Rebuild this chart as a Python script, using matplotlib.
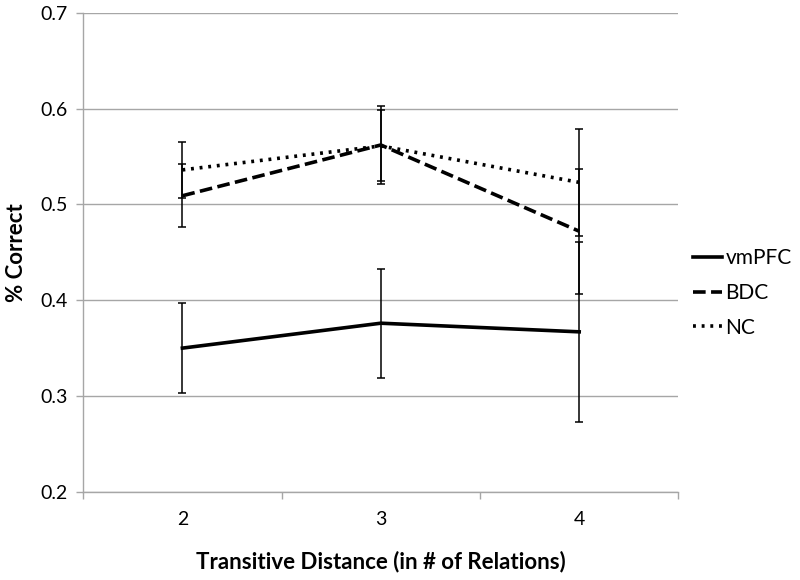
import matplotlib
matplotlib.use("Agg")
import matplotlib.pyplot as plt
from matplotlib.lines import Line2D
from matplotlib.ticker import FixedLocator

plt.rcParams['font.family'] = ['Lato', 'DejaVu Sans']

# --- data ---
distances = ["2", "3", "4"]
vmpfc     = [0.350, 0.376, 0.367]
vmpfc_err = [0.047, 0.057, 0.094]
bdc       = [0.509, 0.562, 0.472]
bdc_err   = [0.033, 0.041, 0.065]
nc        = [0.536, 0.561, 0.523]
nc_err    = [0.029, 0.037, 0.056]

x = list(range(len(distances)))

fig = plt.figure(figsize=(8, 5.8), dpi=100)
ax = fig.add_axes([0.104, 0.152, 0.744, 0.826])

series = [
    ("vmPFC", vmpfc, vmpfc_err, "-"),
    ("BDC",   bdc,   bdc_err,   (0, (3.5, 1.5))),
    ("NC",    nc,    nc_err,    (0, (0.8, 1.6))),
]
handles = []
for name, vals, err, ls in series:
    ax.errorbar(x, vals, yerr=err, color="black", lw=2.6, linestyle=ls,
                ecolor="black", elinewidth=1.1, capsize=3, capthick=1.1,
                dash_capstyle="butt")
    handles.append(Line2D([], [], color="black", lw=2.6, linestyle=ls,
                          dash_capstyle="butt", label=name))

# --- axes styling (Excel-like) ---
ax.set_xlim(-0.5, 2.5)
ax.set_ylim(0.2, 0.7)
ax.set_yticks([0.2, 0.3, 0.4, 0.5, 0.6, 0.7])
ax.set_yticklabels(["0.2", "0.3", "0.4", "0.5", "0.6", "0.7"])
ax.yaxis.grid(True, color="#a6a6a6", lw=1)
ax.set_axisbelow(True)

ax.xaxis.set_major_locator(FixedLocator([-0.5, 0.5, 1.5, 2.5]))
ax.set_xticklabels([])
ax.xaxis.set_minor_locator(FixedLocator(x))
ax.set_xticklabels(distances, minor=True)
ax.tick_params(axis="x", which="major", length=5, color="#a6a6a6", width=1)
ax.tick_params(axis="x", which="minor", length=0, pad=14, labelsize=14)
ax.tick_params(axis="y", length=5, color="#a6a6a6", width=1, labelsize=14, pad=6)

for side in ["top", "right"]:
    ax.spines[side].set_visible(False)
for side in ["left", "bottom"]:
    ax.spines[side].set_color("#a6a6a6")
    ax.spines[side].set_linewidth(1)

ax.set_xlabel("Transitive Distance (in # of Relations)", fontsize=16,
              fontweight="bold", labelpad=16)
ax.set_ylabel("% Correct", fontsize=16, fontweight="bold", labelpad=10)

ax.legend(handles=handles, loc="center left", bbox_to_anchor=(1.0, 0.415),
          frameon=False, fontsize=15, handlelength=1.4, handletextpad=0.15,
          labelspacing=0.7, borderaxespad=0.3)

fig.savefig("out.png", dpi=100)
